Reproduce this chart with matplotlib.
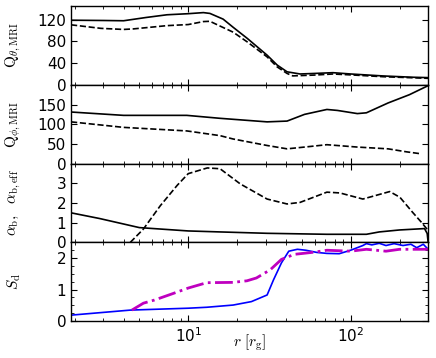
import numpy as np
import matplotlib
matplotlib.use('Agg')
import matplotlib.pyplot as plt
from matplotlib.ticker import MultipleLocator, FixedLocator

plt.rcParams['mathtext.fontset'] = 'cm'
plt.rcParams['font.size'] = 11
plt.rcParams['axes.linewidth'] = 1.0
plt.rcParams['xtick.direction'] = 'in'
plt.rcParams['ytick.direction'] = 'in'
plt.rcParams['xtick.top'] = True
plt.rcParams['ytick.right'] = True
plt.rcParams['xtick.major.size'] = 4
plt.rcParams['ytick.major.size'] = 4
plt.rcParams['xtick.minor.size'] = 2
plt.rcParams['ytick.minor.size'] = 2

# Panel 1: Q_theta,MRI
r_qt = [1.9, 3.0, 4.0, 5.5, 7.4, 10, 12.4, 13.6, 16.4, 18.9, 23.1, 30.6, 35.3, 40.6, 48.8, 60, 77.8, 100, 158, 241, 300]
qt_sol = [119, 118.5, 118, 124, 129, 131, 133, 131.5, 121, 106, 85.5, 54.6, 36.4, 24, 20, 21, 22.4, 20, 16.4, 14, 13.3]
r_qt2 = [1.9, 2.9, 4.0, 4.6, 7.4, 10, 12.4, 13.6, 15.5, 18.9, 23.1, 30.6, 35.3, 40.6, 44, 60, 77.8, 105, 158, 300]
qt_das = [110.5, 104, 102, 103, 109, 111, 116.5, 117, 109, 97, 79, 51.5, 33, 21, 16.5, 18, 20, 18, 15, 12]

# Panel 2: Q_phi,MRI
r_qp = [1.9, 4.0, 9.8, 15.7, 18.9, 30.6, 40.6, 52, 71.4, 83, 110, 125, 170, 230, 300]
qp_sol = [131, 122.5, 122.5, 115, 112.5, 106, 108, 125, 137.5, 135, 127, 129, 154, 175, 198]
r_qp2 = [1.9, 4.0, 9.8, 15.7, 18.9, 30.6, 40.6, 52, 71.4, 110, 170, 220, 270]
qp_das = [106, 92, 83, 71, 62.5, 46, 37.5, 42, 48, 42, 37.5, 30, 25]

# Panel 3: alpha_b (solid), alpha_b,eff (dashed)
r_ab = [1.9, 2.85, 5.0, 10, 15.7, 30.6, 71.4, 125, 150, 200, 285, 296, 300]
ab = [1.5, 1.21, 0.75, 0.58, 0.53, 0.46, 0.41, 0.41, 0.53, 0.63, 0.70, 0.45, 0.0]
r_abe = [4.0, 4.4, 5.29, 6.73, 8.56, 10, 13.1, 15.7, 20.9, 30.6, 40.6, 48.8, 71.4, 85.9, 118.9, 174, 201, 241, 274, 300]
abe = [-0.3, 0.0, 0.67, 1.86, 2.9, 3.49, 3.78, 3.74, 2.97, 2.2, 1.95, 2.03, 2.55, 2.51, 2.2, 2.58, 2.29, 1.52, 1.0, 0.6]

# Panel 4: S_d
r_sd = [1.9, 4.4, 10, 13, 18.9, 24.5, 30.6, 33.5, 37.5, 41.6, 47, 53, 62, 71.4, 85, 100, 118.9, 125, 135, 150,
        165, 185, 210, 235, 255, 280, 300]
sd_blue = [0.19, 0.35, 0.41, 0.44, 0.51, 0.62, 0.83, 1.31, 1.85, 2.22, 2.28, 2.25, 2.18, 2.15, 2.14, 2.25, 2.4, 2.46,
           2.42, 2.47, 2.40, 2.46, 2.40, 2.44, 2.33, 2.44, 2.28]
r_sd2 = [4.5, 5.3, 6.2, 7.9, 10, 13, 18.9, 23, 26.3, 32, 37.5, 45, 60, 71.4, 100, 125, 165, 200, 300]
sd_mag = [0.35, 0.57, 0.67, 0.86, 1.05, 1.22, 1.23, 1.28, 1.37, 1.63, 1.96, 2.12, 2.19, 2.25, 2.22, 2.28, 2.22, 2.28, 2.28]

fig, axes = plt.subplots(4, 1, sharex=True, figsize=(4.36, 3.58), dpi=100)
fig.subplots_adjust(left=0.163, right=0.982, top=0.983, bottom=0.103, hspace=0)
ax1, ax2, ax3, ax4 = axes

ax1.plot(r_qt, qt_sol, 'k-', lw=1.2)
ax1.plot(r_qt2, qt_das, 'k--', lw=1.2)
ax1.set_ylim(0, 145)
ax1.yaxis.set_major_locator(FixedLocator([0, 40, 80, 120]))
ax1.set_ylabel(r'${\rm Q}_{\theta,{\rm MRI}}$')

ax2.plot(r_qp, qp_sol, 'k-', lw=1.2)
ax2.plot(r_qp2, qp_das, 'k--', lw=1.2)
ax2.set_ylim(0, 200)
ax2.yaxis.set_major_locator(FixedLocator([0, 50, 100, 150]))
ax2.set_ylabel(r'${\rm Q}_{\phi,{\rm MRI}}$')

ax3.plot(r_ab, ab, 'k-', lw=1.2)
ax3.plot(r_abe, abe, 'k--', lw=1.2)
ax3.set_ylim(0, 4)
ax3.yaxis.set_major_locator(FixedLocator([0, 1, 2, 3]))
ax3.set_ylabel(r'$\alpha_{\rm b},\ \ \alpha_{\rm b,eff}$')

ax4.plot(r_sd, sd_blue, 'b-', lw=1.2)
ax4.plot(r_sd2, sd_mag, 'm-.', lw=2)
ax4.set_ylim(0, 2.5)
ax4.yaxis.set_major_locator(FixedLocator([0, 1, 2]))
ax4.yaxis.set_minor_locator(MultipleLocator(0.25))
ax4.set_ylabel(r'$S_{\rm d}$')
ax4.set_xscale('log')
ax4.set_xlim(1.9, 300)
ax4.set_xlabel(r'$r\ [r_{\rm g}]$')
ax4.xaxis.set_label_coords(0.5, -0.15)

for ax in axes:
    ax.yaxis.set_label_coords(-0.135, 0.5)
    ax.tick_params(which='both', top=True, right=True)

fig.savefig('out.png', dpi=100)
